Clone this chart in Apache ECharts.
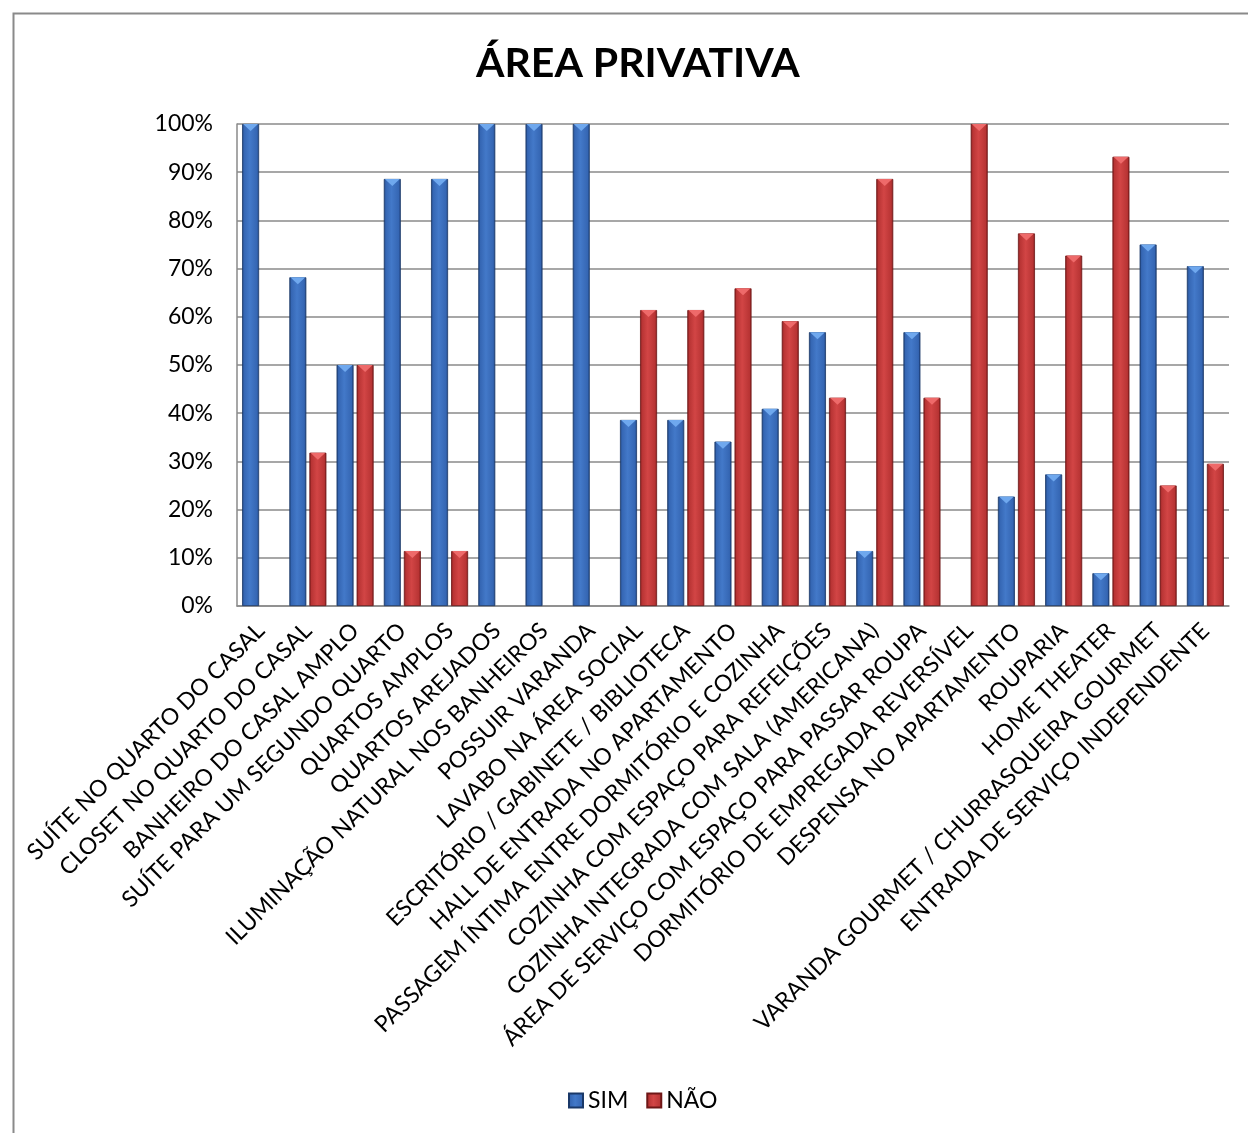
<!DOCTYPE html>
<html>
<head>
<meta charset="utf-8">
<script src="https://cdn.jsdelivr.net/npm/echarts@6/dist/echarts.min.js"></script>
<style>html,body{margin:0;padding:0;background:#fff}#c{width:1248px;height:1133px}</style>
</head>
<body>
<div id="c"></div>
<script>
const categories = [
  "SUÍTE NO QUARTO DO CASAL",
  "CLOSET NO QUARTO DO CASAL",
  "BANHEIRO DO CASAL AMPLO",
  "SUÍTE PARA UM SEGUNDO QUARTO",
  "QUARTOS AMPLOS",
  "QUARTOS AREJADOS",
  "ILUMINAÇÃO NATURAL NOS BANHEIROS",
  "POSSUIR VARANDA",
  "LAVABO NA ÁREA SOCIAL",
  "ESCRITÓRIO / GABINETE / BIBLIOTECA",
  "HALL DE ENTRADA NO APARTAMENTO",
  "PASSAGEM ÍNTIMA ENTRE DORMITÓRIO E COZINHA",
  "COZINHA COM ESPAÇO PARA REFEIÇÕES",
  "COZINHA INTEGRADA COM SALA (AMERICANA)",
  "ÁREA DE SERVIÇO COM ESPAÇO PARA PASSAR ROUPA",
  "DORMITÓRIO DE EMPREGADA REVERSÍVEL",
  "DESPENSA NO APARTAMENTO",
  "ROUPARIA",
  "HOME THEATER",
  "VARANDA GOURMET / CHURRASQUEIRA GOURMET",
  "ENTRADA DE SERVIÇO INDEPENDENTE"
];
const simValues = [100, 68.2, 50, 88.6, 88.6, 100, 100, 100, 38.6, 38.6, 34.1, 40.9, 56.8, 11.4, 56.8, 0, 22.7, 27.3, 6.8, 75.0, 70.5];
const naoValues = [0, 31.8, 50, 11.4, 11.4, 0, 0, 0, 61.4, 61.4, 65.9, 59.1, 43.2, 88.6, 43.2, 100, 77.3, 72.7, 93.2, 25.0, 29.5];
const seriesNames = ["SIM", "NÃO"];
const yTicks = [0, 10, 20, 30, 40, 50, 60, 70, 80, 90, 100];

const FONT = 'Lato';
function grad(dark, mid, light) {
  return new echarts.graphic.LinearGradient(0, 0, 1, 0, [
    {offset: 0, color: dark},
    {offset: 0.12, color: mid},
    {offset: 0.45, color: light},
    {offset: 0.88, color: mid},
    {offset: 1, color: dark}
  ]);
}
const blueFill = grad('#1d3f78', '#3566b3', '#4379c9');
const redFill = grad('#7a1a1a', '#b83434', '#d24545');
const nz = v => v > 0 ? v : '-';

const chart = echarts.init(document.getElementById('c'), null, {renderer: 'canvas'});
chart.setOption({
  backgroundColor: '#ffffff',
  animation: false,
  title: {
    text: 'ÁREA PRIVATIVA',
    left: 471,
    top: 38,
    textStyle: {fontFamily: FONT, fontWeight: 'bold', fontSize: 41, color: '#000'}
  },
  graphic: [{
    type: 'rect', left: 11, top: 11, silent: true,
    shape: {x: 0, y: 0, width: 1300, height: 1200},
    style: {fill: 'none', stroke: '#8a8a8a', lineWidth: 2}
  }],
  legend: {
    data: seriesNames,
    bottom: 16,
    left: 563,
    itemWidth: 14,
    itemHeight: 14,
    itemGap: 18,
    itemTextGap: 4,
    icon: 'rect',
    textStyle: {fontFamily: FONT, fontSize: 23, color: '#000'}
  },
  grid: {left: 237, right: 19, top: 124, bottom: 527, containLabel: false},
  xAxis: {
    type: 'category',
    data: categories,
    axisLine: {lineStyle: {color: '#8a8a8a', width: 1.5}},
    axisTick: {show: false},
    axisLabel: {interval: 0, rotate: 45, margin: 21, fontFamily: FONT, fontSize: 23, color: '#000'}
  },
  yAxis: {
    type: 'value',
    min: yTicks[0],
    max: yTicks[yTicks.length - 1],
    interval: 10,
    axisLine: {show: true, lineStyle: {color: '#8a8a8a', width: 1.5}},
    axisTick: {show: false},
    splitLine: {lineStyle: {color: '#8a8a8a', width: 1.5}},
    axisLabel: {margin: 24, fontFamily: FONT, fontSize: 23, color: '#000', formatter: '{value}%'}
  },
  series: [
    {
      name: seriesNames[0], type: 'bar', data: simValues.map(nz),
      barWidth: 17, barGap: '18%',
      itemStyle: {color: blueFill, borderColor: '#1a3868', borderWidth: 0.8}
    },
    {
      name: seriesNames[1], type: 'bar', data: naoValues.map(nz),
      barWidth: 17, barGap: '18%',
      itemStyle: {color: redFill, borderColor: '#6e1616', borderWidth: 0.8}
    },
    {
      name: 'simTop', type: 'pictorialBar', data: simValues.map(nz),
      barWidth: 17, barGap: '18%', z: 5,
      symbol: 'triangle', symbolRotate: 180, symbolSize: [15, 7], symbolPosition: 'end',
      itemStyle: {color: '#6fa8ee'}, silent: true
    },
    {
      name: 'naoTop', type: 'pictorialBar', data: naoValues.map(nz),
      barWidth: 17, barGap: '18%', z: 5,
      symbol: 'triangle', symbolRotate: 180, symbolSize: [15, 7], symbolPosition: 'end',
      itemStyle: {color: '#ee6a6a'}, silent: true
    }
  ]
});
</script>
</body>
</html>
